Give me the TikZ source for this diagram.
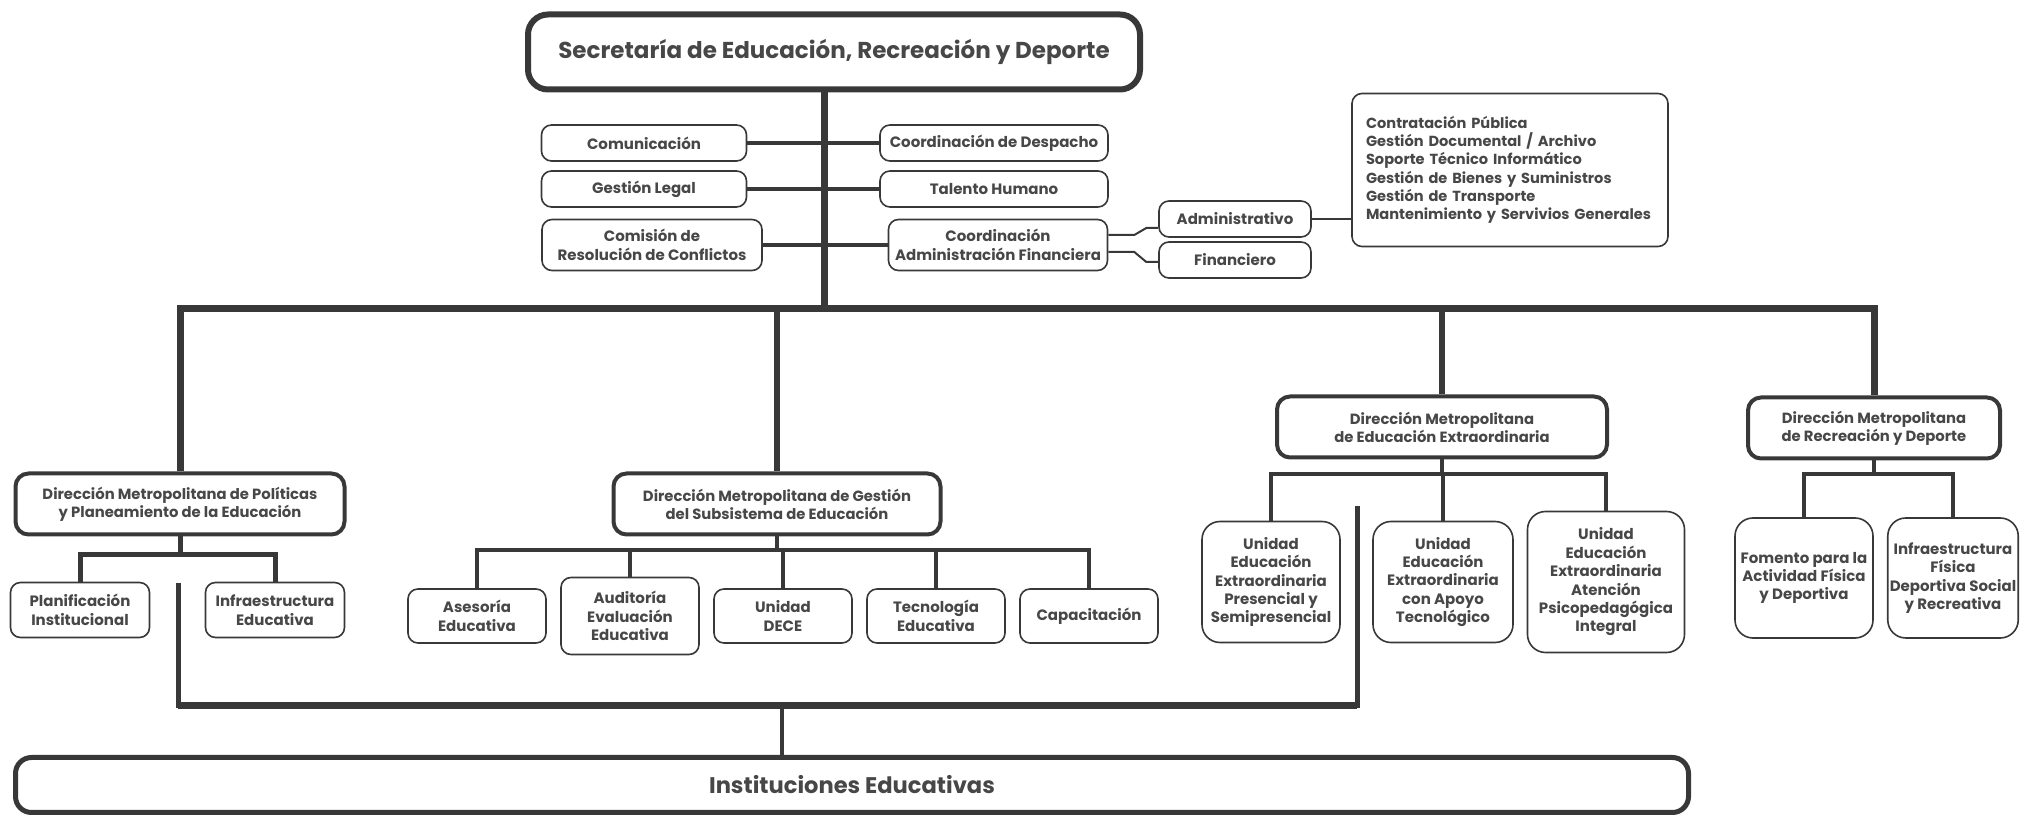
\documentclass[tikz,border=0pt]{standalone}
\usepackage{fontspec}
\setmainfont{Poppins}
\definecolor{linegray}{HTML}{383838}
\definecolor{textgray}{HTML}{474747}
\tikzset{
  unit/.style={draw=linegray, line width=0.8pt, rounded corners=5pt, align=center,
    inner sep=1pt, text=textgray, font=\fontsize{7.5}{9.2}\selectfont\bfseries},
  tallunit/.style={unit, rounded corners=9pt},
  dmbox/.style={unit, line width=2pt, rounded corners=6.5pt,
    font=\fontsize{7.4}{9}\selectfont\bfseries},
  link/.style={draw=linegray, line width=2pt},
  thinlink/.style={draw=linegray, line width=1pt},
  kidbus/.style={draw=linegray, line width=2.2pt},
  kid/.style={draw=linegray, line width=1.6pt},
}
\begin{document}
\begin{tikzpicture}[x=0.5pt, y=-0.5pt]
\useasboundingbox (0,0) rectangle (2020,817);

\node[dmbox, line width=3pt, rounded corners=10pt, minimum width=306pt, minimum height=37.5pt,
  font=\fontsize{11.5}{13}\selectfont\bfseries] (sec) at (834,52) {Secretaría de Educación, Recreación y Deporte};

\node[unit, minimum width=102.5pt, minimum height=18pt] (com) at (644,143) {Comunicación};
\node[unit, minimum width=114pt, minimum height=18pt] (desp) at (994,143) {Coordinación de Despacho};
\node[unit, minimum width=102.5pt, minimum height=18pt] (legal) at (644,189) {Gestión Legal};
\node[unit, minimum width=114pt, minimum height=18pt] (talento) at (994,189) {Talento Humano};
\node[unit, minimum width=110pt, minimum height=25.5pt] (conflictos) at (652,245) {Comisión de\\Resolución de Conflictos};
\node[unit, minimum width=109.5pt, minimum height=25.5pt] (coordaf) at (998,245) {Coordinación\\Administración Financiera};
\node[unit, minimum width=76pt, minimum height=18pt] (admin) at (1235,219) {Administrativo};
\node[unit, minimum width=76pt, minimum height=18pt] (finan) at (1235,260) {Financiero};
\node[unit, align=left, text width=144pt, inner xsep=7pt, minimum height=76.5pt,
  font=\fontsize{7.3}{9.15}\selectfont\bfseries] (tareas) at (1510,170)
  {Contratación Pública\\Gestión Documental / Archivo\\Soporte Técnico Informático\\Gestión de Bienes y Suministros\\Gestión de Transporte\\Mantenimiento y Servivios Generales};

\node[dmbox, minimum width=164.5pt, minimum height=30.5pt] (politicas) at (180,504) {Dirección Metropolitana de Políticas\\y Planeamiento de la Educación};
\node[dmbox, minimum width=163.5pt, minimum height=30.5pt] (gestion) at (777,504) {Dirección Metropolitana de Gestión\\del Subsistema de Educación};
\node[dmbox, minimum width=165pt, minimum height=30.5pt] (extra) at (1442,427) {Dirección Metropolitana\\de Educación Extraordinaria};
\node[dmbox, minimum width=126pt, minimum height=30.5pt] (recreacion) at (1874,428) {Dirección Metropolitana\\de Recreación y Deporte};

\node[unit, minimum width=69.5pt, minimum height=27.5pt] (planif) at (80,610) {Planificación\\Institucional};
\node[unit, minimum width=69.5pt, minimum height=27.5pt] (infraedu) at (275,610) {Infraestructura\\Educativa};

\node[unit, minimum width=69pt, minimum height=27pt] (asesoria) at (477,616) {Asesoría\\Educativa};
\node[unit, minimum width=69pt, minimum height=38.5pt] (auditoria) at (630,616) {Auditoría\\Evaluación\\Educativa};
\node[unit, minimum width=69pt, minimum height=27pt] (dece) at (783,616) {Unidad\\DECE};
\node[unit, minimum width=69pt, minimum height=27pt] (tecnologia) at (936,616) {Tecnología\\Educativa};
\node[unit, minimum width=69pt, minimum height=27pt] (capacitacion) at (1089,616) {Capacitación};

\node[tallunit, minimum width=69pt, minimum height=60.5pt] (presencial) at (1271,582) {Unidad\\Educación\\Extraordinaria\\Presencial y\\Semipresencial};
\node[tallunit, minimum width=70pt, minimum height=60.5pt] (apoyo) at (1443,582) {Unidad\\Educación\\Extraordinaria\\con Apoyo\\Tecnológico};
\node[tallunit, minimum width=78.5pt, minimum height=70.5pt] (atencion) at (1606,582) {Unidad\\Educación\\Extraordinaria\\Atención\\Psicopedagógica\\Integral};

\node[tallunit, minimum width=69pt, minimum height=60pt] (fomento) at (1804,578) {Fomento para la\\Actividad Física\\y Deportiva};
\node[tallunit, minimum width=65pt, minimum height=60pt] (infrafis) at (1953,578) {Infraestructura\\Física\\Deportiva Social\\y Recreativa};

\node[dmbox, line width=2.5pt, rounded corners=8pt, minimum width=836.5pt, minimum height=27.5pt,
  font=\fontsize{11.3}{13}\selectfont\bfseries] (inst) at (852,785) {Instituciones Educativas};

\coordinate (hub) at (824,309);
\coordinate (pbus) at (180,555);
\coordinate (gbus) at (777,550);
\coordinate (ebus) at (1442,474);
\coordinate (rbus) at (1874,474);
\coordinate (ftopl) at (178,583);
\coordinate (fbotl) at (178,706);
\coordinate (fbotr) at (1357,706);
\coordinate (ftopr) at (1357,506);
\coordinate (fmid) at (782,706);

\draw[link, line width=3.5pt] (hub |- sec.south) -- (hub);
\draw[link, line width=3.5pt] (politicas) |- (hub) -| (recreacion);
\draw[link, line width=3pt] (gestion.north) -- (gestion.north |- hub);
\draw[link, line width=3pt] (extra) -- (extra |- hub);

\draw[link] (com) -- (desp);
\draw[link] (legal) -- (talento);
\draw[link] (conflictos) -- (coordaf);
\draw[thinlink] ([yshift=5pt]coordaf.east) -- ++(26,0) -- ++(12,-7) -- ([yshift=-4.5pt]admin.west);
\draw[thinlink] ([yshift=-3.5pt]coordaf.east) -- ++(26,0) -- ++(12,10) -- ([yshift=-1pt]finan.west);
\draw[thinlink] (admin) -- (tareas.west |- admin);

\draw[kidbus, line width=2.5pt] (politicas) -- (pbus);
\draw[kidbus, line width=2.5pt] (planif) |- (pbus) -| (infraedu);

\draw[kidbus] (gestion) -- (gbus);
\draw[kidbus] (asesoria) |- (gbus) -| (capacitacion);
\foreach \n in {auditoria, dece, tecnologia}
  \draw[kid] (\n) -- (\n |- gbus);

\draw[kid, line width=1.8pt] (extra) -- (ebus);
\draw[kid, line width=1.8pt] (presencial) |- (ebus) -| (atencion);
\draw[kid, line width=1.8pt] (apoyo) -- (apoyo |- ebus);

\draw[kid, line width=1.8pt] (recreacion) -- (rbus);
\draw[kid, line width=1.8pt] (fomento) |- (rbus) -| (infrafis);

\draw[link, line width=2.5pt] (ftopl) -- (fbotl) -- (fbotr) -- (ftopr);
\draw[link, line width=3.5pt] (fbotl) -- (fbotr);
\draw[kid] (fmid) -- (fmid |- inst.north);
\end{tikzpicture}
\end{document}
